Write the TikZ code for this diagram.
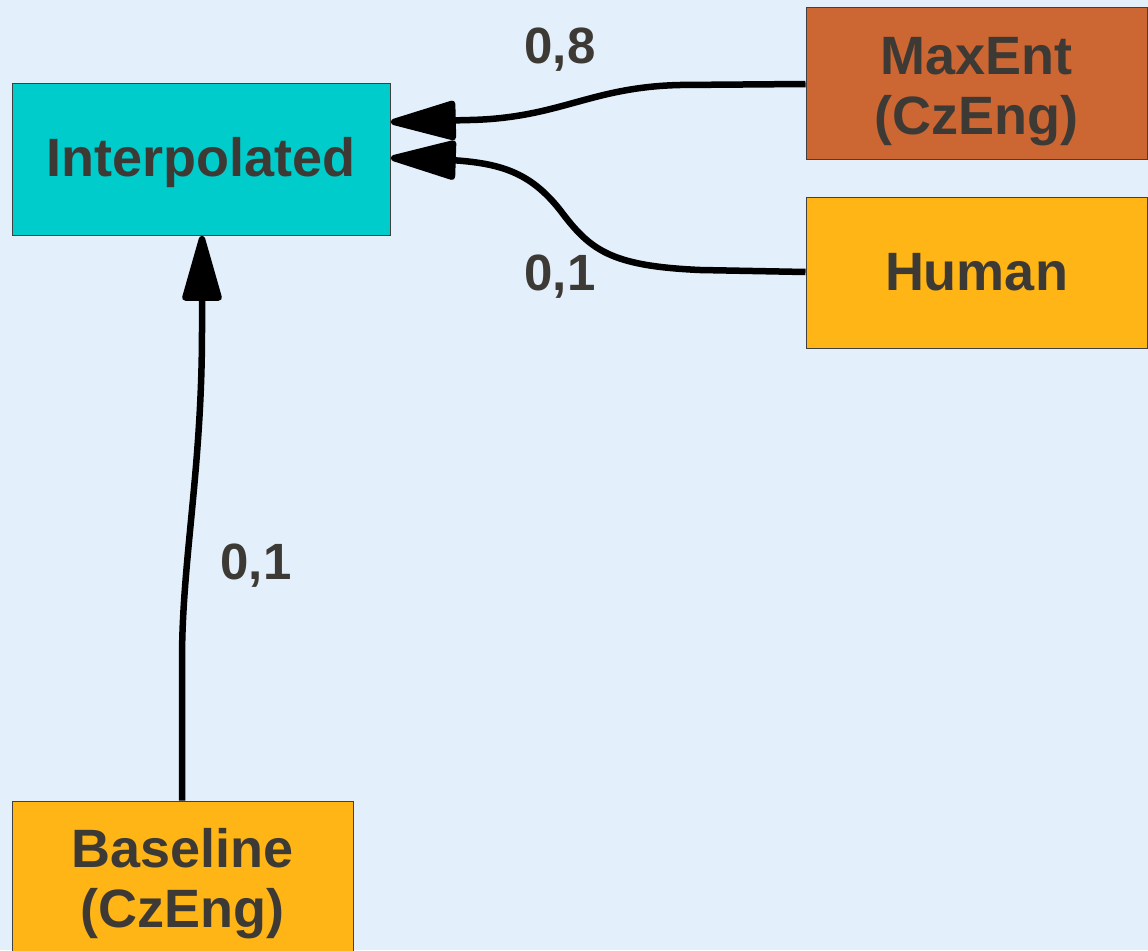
\documentclass[tikz,border=0pt]{standalone}
\usepackage{fontspec}
\setmainfont{Liberation Sans}
\usetikzlibrary{arrows.meta}
\definecolor{bg}{HTML}{E3EFFB}
\definecolor{txt}{HTML}{3D3A35}
\definecolor{cyanbox}{HTML}{00CCCC}
\definecolor{rustbox}{HTML}{CC6633}
\definecolor{ambox}{HTML}{FFB515}
\tikzset{
  box/.style={draw=black!75, line width=1pt, inner sep=0pt},
  btxt/.style={inner sep=0pt, align=center, text=txt, font=\fontsize{54}{60}\selectfont\bfseries},
  lbl/.style={text=txt, inner sep=0pt, font=\fontsize{51}{60}\selectfont\bfseries},
  conn/.style={line width=6.5pt, line join=round,
    -{Triangle[length=74pt,width=40pt,round]}}
}
\begin{document}
\begin{tikzpicture}[x=1pt,y=-1pt]
\fill[bg] (0,0) rectangle (1148,950);
\clip (0,0) rectangle (1148,950);
\useasboundingbox (0,0) rectangle (1148,950);
\node[box, fill=cyanbox, minimum width=378pt, minimum height=152pt] (interp) at (201,159) {};
\node[box, fill=rustbox, minimum width=341pt, minimum height=151pt] (maxent) at (976.5,83.5) {};
\node[box, fill=ambox, minimum width=341pt, minimum height=151pt] (human) at (976.5,272.5) {};
\node[box, fill=ambox, minimum width=341pt, minimum height=151pt] (base) at (182.5,876.5) {};
\node[btxt, yshift=-4pt] (interpT) at (interp) {Interpolated};
\node[btxt, yshift=-8pt] (maxentT) at (maxent) {MaxEnt\\(CzEng)};
\node[btxt] (humanT) at (human) {Human};
\node[btxt, yshift=-7pt] (baseT) at (base) {Baseline\\(CzEng)};
\coordinate (t1) at (391,122);
\coordinate (t2) at (391,158);
\coordinate (t3) at (202,236);
\draw[conn] (maxent.west |- 0,84) -- (680,85) .. controls (590,87) and (560,118) .. (470,120) -- (t1);
\draw[conn] (human.west |- 0,272) -- (700,270) .. controls (610,266) and (590,250) .. (560,210) .. controls (530,172) and (500,163) .. (450,160) -- (t2);
\draw[conn] (base.north -| 182,0) -- (182,660) .. controls (182,560) and (202,470) .. (202,330) -- (t3);
\node[lbl] (l1) at (560,50) {0,8};
\node[lbl] (l2) at (560,277) {0,1};
\node[lbl] (l3) at (256,566) {0,1};
\end{tikzpicture}
\end{document}
